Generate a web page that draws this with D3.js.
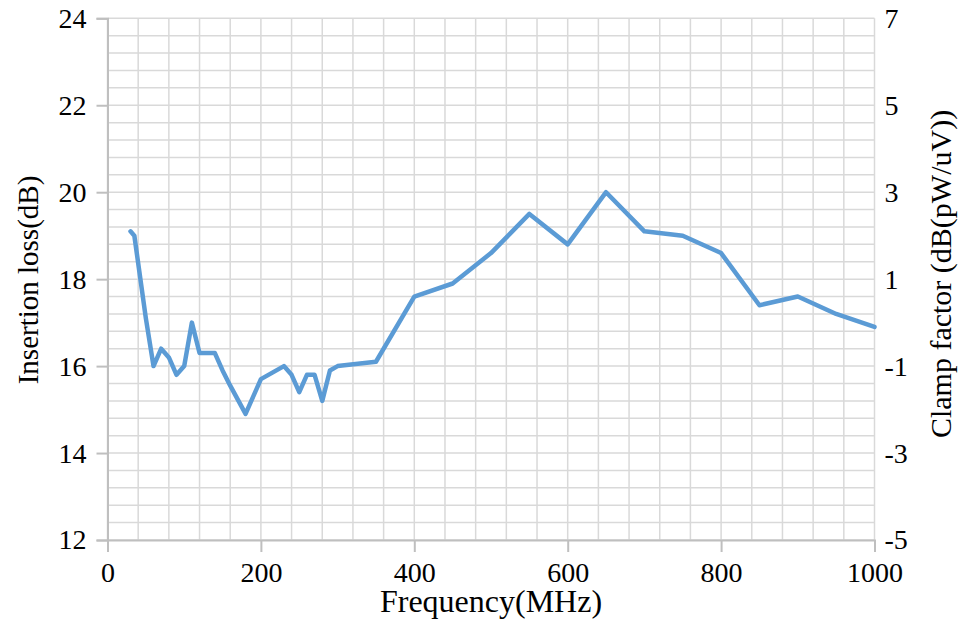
<!DOCTYPE html>
<html>
<head>
<meta charset="utf-8">
<script src="https://cdn.jsdelivr.net/npm/d3@7"></script>
<style>
  body { margin: 0; background: #fff; }
</style>
</head>
<body>
<div id="main"><svg width="962" height="637"></svg></div>
<script>
// Data
var freqs = [30, 35, 50, 60, 70, 80, 90, 100, 110, 120, 140, 150, 160, 180, 200,
             230, 240, 250, 260, 270, 280, 290, 300, 350, 400, 450, 500, 550, 600,
             650, 700, 750, 800, 850, 900, 950, 1000];
var loss = [19.1, 19.0, 17.1, 16.0, 16.4, 16.2, 15.8, 16.0, 17.0, 16.3, 16.3, 15.9, 15.55, 14.9, 15.7,
            16.0, 15.8, 15.4, 15.8, 15.8, 15.2, 15.9, 16.0, 16.1, 17.6, 17.9, 18.6, 19.5, 18.8,
            20.0, 19.1, 19.0, 18.6, 17.4, 17.6, 17.2, 16.9];
var xTicks = [0, 200, 400, 600, 800, 1000];
var yTicks = [12, 14, 16, 18, 20, 22, 24];
var rightTicks = [-5, -3, -1, 1, 3, 5, 7];

var serif = "Liberation Serif";
var svg = d3.select("#main").select("svg");

// Plot area
var plotLeft = 107.5, plotRight = 874.5, plotTop = 18.3, plotBottom = 540;

var xScale = d3.scaleLinear().domain([0, 1000]).range([plotLeft, plotRight]);
var yScale = d3.scaleLinear().domain([12, 24]).range([plotBottom, plotTop]);
var yRight = d3.scaleLinear().domain([-5, 7]).range([plotBottom, plotTop]);

// Gridlines
var grid = svg.append("g").attr("class", "grid");
grid.selectAll("line.v")
    .data(d3.range(0, 1001, 40))
    .enter().append("line")
    .attr("x1", function(d) { return xScale(d); })
    .attr("x2", function(d) { return xScale(d); })
    .attr("y1", plotTop).attr("y2", plotBottom)
    .attr("stroke", "#d9d9d9").attr("stroke-width", 1.5);
grid.selectAll("line.h")
    .data(d3.range(0, 31).map(function(i) { return 12 + i * 0.4; }))
    .enter().append("line")
    .attr("x1", plotLeft).attr("x2", plotRight)
    .attr("y1", function(d) { return yScale(d); })
    .attr("y2", function(d) { return yScale(d); })
    .attr("stroke", "#d9d9d9").attr("stroke-width", 1.5);

// Left axis
var yAxis = d3.axisLeft(yScale).tickValues(yTicks).tickSize(11).tickPadding(10);
var yG = svg.append("g")
    .attr("transform", "translate(" + plotLeft + ",0)")
    .call(yAxis);

// Bottom axis
var xAxis = d3.axisBottom(xScale).tickValues(xTicks).tickSize(12).tickPadding(10)
    .tickFormat(d3.format("d"));
var xG = svg.append("g")
    .attr("transform", "translate(0," + plotBottom + ")")
    .call(xAxis);

// Right axis (labels only)
var rAxis = d3.axisRight(yRight).tickValues(rightTicks).tickSize(0).tickPadding(10)
    .tickFormat(function(d) { return d < 0 ? "-" + Math.abs(d) : d; });
var rG = svg.append("g")
    .attr("transform", "translate(" + plotRight + ",0)")
    .call(rAxis);
rG.select(".domain").remove();

[yG, xG, rG].forEach(function(g) {
    g.attr("font-family", serif).attr("font-size", 28);
});
[yG, xG].forEach(function(g) {
    g.select(".domain").attr("stroke", "#bfbfbf").attr("stroke-width", 2);
    g.selectAll(".tick line").attr("stroke", "#bfbfbf").attr("stroke-width", 2);
});
svg.selectAll(".tick text").attr("fill", "#000");

// Line
var line = d3.line()
    .x(function(d, i) { return xScale(freqs[i]); })
    .y(function(d) { return yScale(d); });

svg.append("path")
    .datum(loss)
    .attr("d", line)
    .attr("fill", "none")
    .attr("stroke", "#5b9bd5")
    .attr("stroke-width", 4.5)
    .attr("stroke-linejoin", "round")
    .attr("stroke-linecap", "round");

// Axis titles
svg.append("text")
    .attr("x", (plotLeft + plotRight) / 2)
    .attr("y", 612)
    .attr("text-anchor", "middle")
    .attr("font-family", serif)
    .attr("font-size", 32)
    .text("Frequency(MHz)");

svg.append("text")
    .attr("transform", "translate(38,280) rotate(-90)")
    .attr("text-anchor", "middle")
    .attr("font-family", serif)
    .attr("font-size", 29)
    .text("Insertion loss(dB)");

svg.append("text")
    .attr("transform", "translate(951,274) rotate(-90)")
    .attr("text-anchor", "middle")
    .attr("font-family", serif)
    .attr("font-size", 30)
    .text("Clamp factor (dB(pW/uV))");
</script>
</body>
</html>
